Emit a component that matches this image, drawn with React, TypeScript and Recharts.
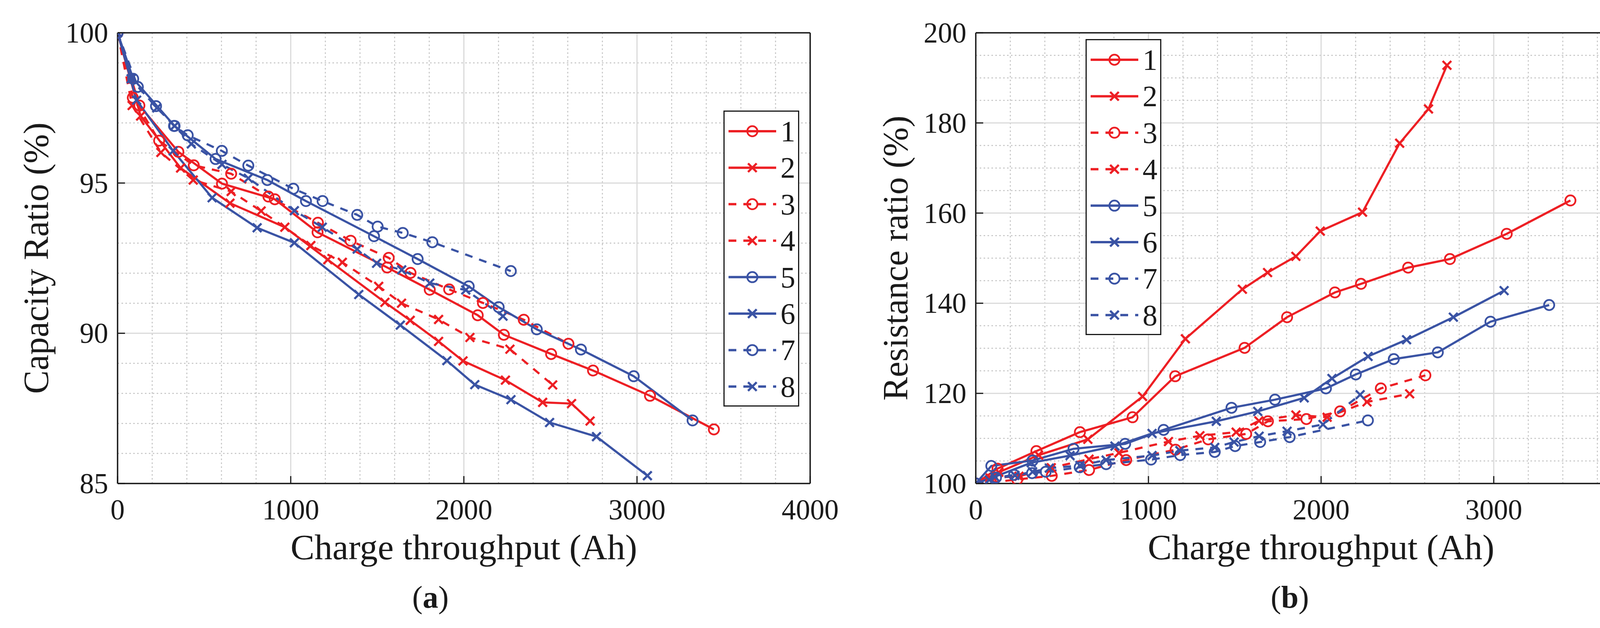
import React from "react";
import {
  LineChart,
  Line,
  XAxis,
  YAxis,
  CartesianGrid,
  Legend,
  Label,
} from "recharts";

const RED = "#ED1F24";
const BLUE = "#3A53A4";
const INK = "#1a1a1a";

// axis ticks
const X_TICKS = [0, 1000, 2000, 3000, 4000];
const X_MINOR = [200, 400, 600, 800, 1200, 1400, 1600, 1800, 2200, 2400, 2600, 2800, 3200, 3400, 3600, 3800];
const CAP_TICKS = [85, 90, 95, 100];
const CAP_MINOR = [86, 87, 88, 89, 91, 92, 93, 94, 96, 97, 98, 99];
const RES_TICKS = [100, 120, 140, 160, 180, 200];
const RES_MINOR = [105, 110, 115, 125, 130, 135, 145, 150, 155, 165, 170, 175, 185, 190, 195];

// charge throughput (Ah) per cell, capacity ratio (%) and resistance ratio (%)
const S1_X = [0, 126, 351, 603, 908, 1155, 1557, 1803, 2080, 2231, 2504, 2746, 3075, 3444];
const S1_CAP = [100, 97.58, 96.04, 94.98, 94.46, 93.36, 92.19, 91.45, 90.6, 89.95, 89.31, 88.76, 87.92, 86.8];
const S1_RES = [100, 103.3, 107.2, 111.4, 114.7, 123.8, 130.1, 136.9, 142.4, 144.3, 147.9, 149.8, 155.4, 162.8];

const S2_X = [0, 133, 364, 649, 966, 1214, 1544, 1690, 1854, 1995, 2240, 2455, 2622, 2729];
const S2_CAP = [100, 97.23, 95.5, 94.33, 93.53, 92.45, 91.03, 90.43, 89.73, 89.08, 88.44, 87.7, 87.66, 87.08];
const S2_RES = [100, 102.5, 106.3, 109.8, 119.3, 132.1, 143.1, 146.8, 150.4, 156.0, 160.2, 175.5, 183.1, 192.8];

const S3_X = [0, 88, 240, 440, 656, 871, 1157, 1346, 1566, 1692, 1915, 2110, 2346, 2604];
const S3_CAP = [100, 97.84, 96.41, 95.59, 95.31, 94.55, 93.68, 93.08, 92.51, 92.01, 91.46, 91.01, 90.45, 89.65];
const S3_RES = [100, 100.2, 100.9, 101.7, 103.0, 105.2, 107.5, 109.8, 111.0, 113.8, 114.3, 116.0, 121.1, 124.0];

const S4_X = [0, 84, 250, 437, 656, 829, 1116, 1298, 1508, 1640, 1854, 2035, 2266, 2513];
const S4_CAP = [100, 97.58, 96.02, 95.1, 94.72, 94.07, 92.92, 92.36, 91.56, 91.0, 90.46, 89.86, 89.47, 88.28];
const S4_RES = [100, 101.2, 101.6, 103.5, 105.4, 106.8, 109.3, 110.6, 111.4, 113.9, 115.2, 114.7, 118.1, 119.9];

const S5_X = [0, 90, 329, 566, 865, 1088, 1481, 1733, 2028, 2201, 2421, 2676, 2981, 3321];
const S5_CAP = [100, 98.47, 96.9, 95.8, 95.1, 94.4, 93.23, 92.47, 91.56, 90.87, 90.13, 89.46, 88.57, 87.1];
const S5_RES = [100, 103.9, 105.1, 107.7, 108.8, 111.9, 116.8, 118.6, 121.1, 124.2, 127.6, 129.1, 135.9, 139.6];

const S6_X = [0, 110, 321, 546, 806, 1021, 1393, 1633, 1902, 2063, 2272, 2495, 2766, 3060];
const S6_CAP = [100, 97.76, 96.07, 94.51, 93.51, 93.01, 91.29, 90.27, 89.09, 88.29, 87.79, 87.03, 86.56, 85.26];
const S6_RES = [100, 101.5, 104.6, 106.2, 108.3, 111.1, 113.8, 116.0, 119.0, 123.3, 128.2, 131.9, 136.9, 142.8];

const S7_X = [0, 117, 222, 326, 405, 602, 755, 1015, 1184, 1384, 1502, 1647, 1818, 2271];
const S7_CAP = [100, 98.2, 97.56, 96.9, 96.59, 96.07, 95.58, 94.81, 94.4, 93.94, 93.55, 93.34, 93.03, 92.07];
const S7_RES = [100, 101.3, 101.9, 102.3, 102.6, 103.6, 104.3, 105.3, 106.3, 107.0, 108.3, 109.2, 110.3, 114.0];

const S8_X = [0, 78, 227, 329, 426, 603, 755, 1021, 1182, 1384, 1496, 1641, 1803, 2011, 2226];
const S8_CAP = [100, 98.47, 97.5, 96.9, 96.3, 95.62, 95.16, 94.08, 93.53, 92.8, 92.33, 92.11, 91.67, 91.44, 90.57];
const S8_RES = [100, 100.8, 101.8, 102.6, 103.4, 104.0, 105.2, 106.2, 107.3, 108.0, 109.2, 110.5, 111.6, 113.1, 119.7];

const SERIES = [
  { name: "1", x: S1_X, cap: S1_CAP, res: S1_RES, color: RED, dashed: false, marker: "o" },
  { name: "2", x: S2_X, cap: S2_CAP, res: S2_RES, color: RED, dashed: false, marker: "x" },
  { name: "3", x: S3_X, cap: S3_CAP, res: S3_RES, color: RED, dashed: true, marker: "o" },
  { name: "4", x: S4_X, cap: S4_CAP, res: S4_RES, color: RED, dashed: true, marker: "x" },
  { name: "5", x: S5_X, cap: S5_CAP, res: S5_RES, color: BLUE, dashed: false, marker: "o" },
  { name: "6", x: S6_X, cap: S6_CAP, res: S6_RES, color: BLUE, dashed: false, marker: "x" },
  { name: "7", x: S7_X, cap: S7_CAP, res: S7_RES, color: BLUE, dashed: true, marker: "o" },
  { name: "8", x: S8_X, cap: S8_CAP, res: S8_RES, color: BLUE, dashed: true, marker: "x" },
];

const DASH = "20 18";
const TICK_LEN = 19;
// plot box (chart-local pixels), shared by both panels
const PLOT_TOP = 84;
const PLOT_H = 1154;

function Marker({ cx, cy, color, kind }: any) {
  if (cx == null || cy == null) return <g />;
  if (kind === "o") {
    return <circle cx={cx} cy={cy} r={13} fill="none" stroke={color} strokeWidth={4.5} />;
  }
  const d = 11;
  return (
    <g>
      <line x1={cx - d} y1={cy - d} x2={cx + d} y2={cy + d} stroke={color} strokeWidth={5.5} />
      <line x1={cx - d} y1={cy + d} x2={cx + d} y2={cy - d} stroke={color} strokeWidth={5.5} />
    </g>
  );
}

const BottomTick = ({ x, y, payload }: any) => (
  <g>
    <line x1={x} x2={x} y1={y} y2={y - TICK_LEN} stroke={INK} strokeWidth={3} />
    <text x={x} y={y + 92} textAnchor="middle" fontSize={73} fill={INK}>
      {payload.value}
    </text>
  </g>
);

const TopTick = ({ x, y }: any) => (
  <line x1={x} x2={x} y1={y} y2={y + TICK_LEN} stroke={INK} strokeWidth={3} />
);

const LeftTick = ({ x, y, payload }: any) => (
  <g>
    <line x1={x} x2={x + TICK_LEN} y1={y} y2={y} stroke={INK} strokeWidth={3} />
    <text x={x - 24} y={y + 25} textAnchor="end" fontSize={73} fill={INK}>
      {payload.value}
    </text>
  </g>
);

const RightTick = ({ x, y }: any) => (
  <line x1={x} x2={x - TICK_LEN} y1={y} y2={y} stroke={INK} strokeWidth={3} />
);

const renderLegend = () => (
  <svg width={194} height={758} style={{ display: "block" }}>
    <rect x={1.5} y={1.5} width={191} height={755} fill="#fff" stroke={INK} strokeWidth={3} />
    {SERIES.map((s, i) => {
      const cy = 53 + i * 93.4;
      return (
        <g key={s.name}>
          <line
            x1={13}
            x2={135}
            y1={cy}
            y2={cy}
            stroke={s.color}
            strokeWidth={6}
            strokeDasharray={s.dashed ? DASH : undefined}
          />
          <Marker cx={74} cy={cy} color={s.color} kind={s.marker} />
          <text x={146} y={cy + 26} fontSize={76} fill={INK}>
            {s.name}
          </text>
        </g>
      );
    })}
  </svg>
);

interface PanelProps {
  field: "cap" | "res";
  width: number;
  marginLeft: number;
  marginRight: number;
  yDomain: [number, number];
  yTicks: number[];
  yMinor: number[];
  yTitle: string;
  caption: string;
  legendLeft: number;
  legendTop: number;
}

function Panel(p: PanelProps) {
  const axisLine = { stroke: INK, strokeWidth: 3.5 };
  const plotLeft = p.marginLeft + 160;
  const plotCenterX = plotLeft + (p.width - p.marginRight - 1 - plotLeft) / 2;
  return (
    <LineChart
      width={p.width}
      height={1608}
      margin={{ top: PLOT_TOP - 1, right: p.marginRight, bottom: 170, left: p.marginLeft }}
    >
      <CartesianGrid
        stroke="#c4c4c4"
        strokeWidth={2.5}
        strokeDasharray="4 6"
        horizontalValues={p.yMinor}
        verticalValues={X_MINOR}
      />
      <CartesianGrid stroke="#dadada" strokeWidth={3} />
      <XAxis
        dataKey="x"
        type="number"
        domain={[0, 4000]}
        ticks={X_TICKS}
        interval={0}
        height={200}
        tickSize={0}
        tickMargin={0}
        tick={BottomTick}
        axisLine={axisLine}
        allowDataOverflow
      >
        <Label
          content={() => (
            <g>
              <text x={plotCenterX} y={1432} textAnchor="middle" fontSize={92} fill={INK}>
                Charge throughput (Ah)
              </text>
              <text x={1102} y={1556} textAnchor="middle" fontSize={80} fill={INK}>
                (<tspan fontWeight="bold">{p.caption}</tspan>)
              </text>
            </g>
          )}
        />
      </XAxis>
      <XAxis
        xAxisId="top"
        orientation="top"
        type="number"
        domain={[0, 4000]}
        ticks={X_TICKS}
        interval={0}
        height={1}
        tickSize={0}
        tickMargin={0}
        tick={TopTick}
        axisLine={axisLine}
      />
      <YAxis
        type="number"
        domain={p.yDomain}
        ticks={p.yTicks}
        interval={0}
        width={160}
        tickSize={0}
        tickMargin={0}
        tick={LeftTick}
        axisLine={axisLine}
        allowDataOverflow
      >
        <Label
          content={() => (
            <text
              transform={`translate(123, ${PLOT_TOP + PLOT_H / 2}) rotate(-90)`}
              textAnchor="middle"
              fontSize={90}
              fill={INK}
            >
              {p.yTitle}
            </text>
          )}
        />
      </YAxis>
      <YAxis
        yAxisId="right"
        orientation="right"
        type="number"
        domain={p.yDomain}
        ticks={p.yTicks}
        interval={0}
        width={1}
        tickSize={0}
        tickMargin={0}
        tick={RightTick}
        axisLine={axisLine}
      />
      {SERIES.map((s) => (
        <Line
          key={s.name}
          name={s.name}
          data={s.x.map((x, i) => ({ x, y: s[p.field][i] }))}
          dataKey="y"
          type="linear"
          stroke={s.color}
          strokeWidth={5.5}
          strokeDasharray={s.dashed ? DASH : undefined}
          dot={(d: any) => (
            <Marker key={`${s.name}-${d.index}`} cx={d.cx} cy={d.cy} color={s.color} kind={s.marker} />
          )}
          activeDot={false}
          isAnimationActive={false}
        />
      ))}
      <Legend
        layout="vertical"
        align="center"
        verticalAlign="middle"
        content={renderLegend}
        wrapperStyle={{ left: p.legendLeft, top: p.legendTop, width: 194, height: 758 }}
      />
    </LineChart>
  );
}

export default function App() {
  return (
    <div
      style={{
        position: "absolute",
        left: 0,
        top: 0,
        width: 4384,
        height: 1608,
        background: "#fff",
        display: "flex",
      }}
    >
      <Panel
        field="cap"
        width={2200}
        marginLeft={141}
        marginRight={125}
        yDomain={[85, 100]}
        yTicks={CAP_TICKS}
        yMinor={CAP_MINOR}
        yTitle="Capacity Ratio (%)"
        caption="a"
        legendLeft={1852}
        legendTop={283}
      />
      <Panel
        field="res"
        width={2184}
        marginLeft={138}
        marginRight={117}
        yDomain={[100, 200]}
        yTicks={RES_TICKS}
        yMinor={RES_MINOR}
        yTitle="Resistance ratio (%)"
        caption="b"
        legendLeft={579}
        legendTop={100}
      />
    </div>
  );
}
